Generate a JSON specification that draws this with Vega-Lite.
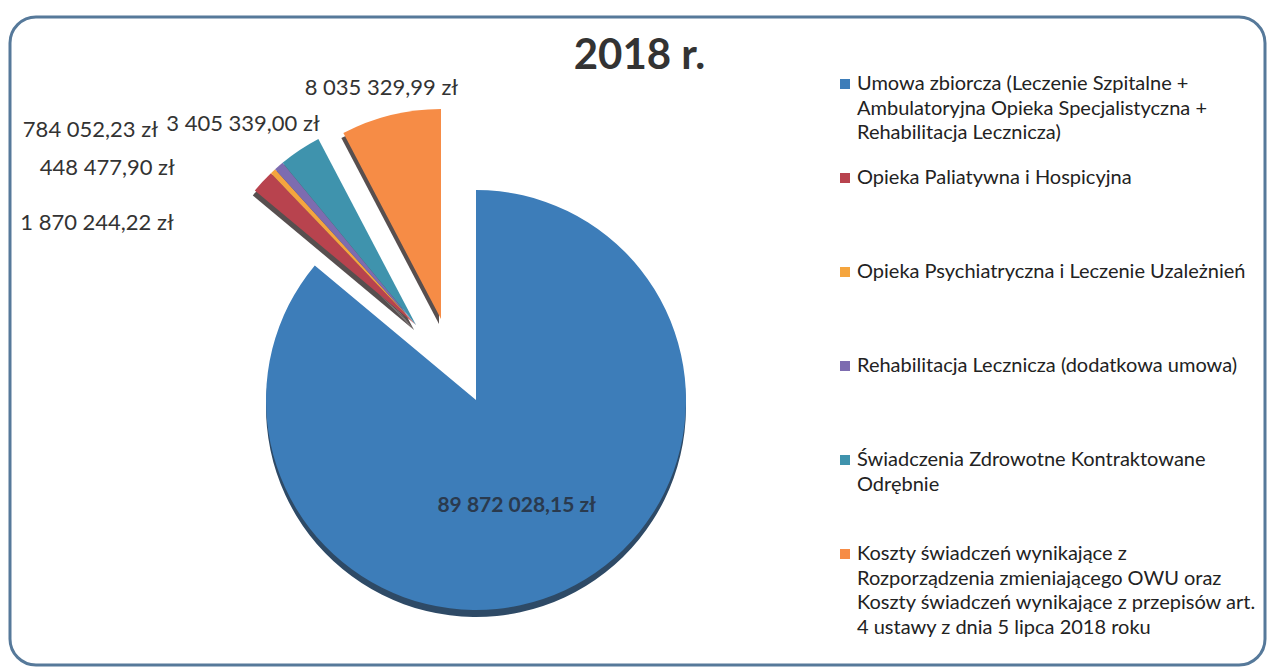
{
  "$schema": "https://vega.github.io/schema/vega-lite/v6.json",
  "autosize": "none",
  "width": 1255,
  "height": 648,
  "padding": {"top": 17, "left": 10, "right": 6, "bottom": 3},
  "background": "#ffffff",
  "title": {"text": "2018 r.", "font": "Lato", "fontSize": 42, "fontWeight": "bold", "color": "#333333", "anchor": "middle", "frame": "group", "baseline": "alphabetic", "offset": -53, "dx": 2, "dy": 42},
  "config": {
    "view": {"stroke": null},
    "text": {"font": "Lato"}
  },
  "data": {"values": [
    {"nr": 1, "kategoria": "Umowa zbiorcza (Leczenie Szpitalne +\nAmbulatoryjna Opieka Specjalistyczna +\nRehabilitacja Lecznicza)", "wartosc": 89872028.15, "etykieta": "89 872 028,15 zł"},
    {"nr": 2, "kategoria": "Opieka Paliatywna i Hospicyjna", "wartosc": 1870244.22, "etykieta": "1 870 244,22 zł"},
    {"nr": 3, "kategoria": "Opieka Psychiatryczna i Leczenie Uzależnień", "wartosc": 448477.90, "etykieta": "448 477,90 zł"},
    {"nr": 4, "kategoria": "Rehabilitacja Lecznicza (dodatkowa umowa)", "wartosc": 784052.23, "etykieta": "784 052,23 zł"},
    {"nr": 5, "kategoria": "Świadczenia Zdrowotne Kontraktowane\nOdrębnie", "wartosc": 3405339.00, "etykieta": "3 405 339,00 zł"},
    {"nr": 6, "kategoria": "Koszty świadczeń wynikające z\nRozporządzenia zmieniającego OWU oraz\nKoszty świadczeń wynikające z przepisów art.\n4 ustawy z dnia 5 lipca 2018 roku", "wartosc": 8035329.99, "etykieta": "8 035 329,99 zł"}
  ]},
  "layer": [
    {
      "transform": [{"filter": "datum.nr == 1"}],
      "mark": {"type": "rect", "fill": "#ffffff", "fillOpacity": 0, "stroke": "#56799a", "strokeWidth": 3, "cornerRadius": 26}
    },
    {
      "mark": {"type": "arc", "radius": 210, "xOffset": -161.5, "yOffset": 66, "fill": "#2e4a66"},
      "encoding": {
        "theta": {"field": "wartosc", "type": "quantitative", "stack": true},
        "order": {"field": "nr", "type": "quantitative"},
        "opacity": {"condition": {"test": "datum.nr == 1", "value": 1}, "value": 0}}
    },
    {
      "mark": {"type": "arc", "radius": 210, "xOffset": -223.5, "yOffset": -11, "fill": "#3a3030"},
      "encoding": {
        "theta": {"field": "wartosc", "type": "quantitative", "stack": true},
        "order": {"field": "nr", "type": "quantitative"},
        "opacity": {"condition": {"test": "datum.nr >= 2 && datum.nr <= 5", "value": 0.85}, "value": 0}}
    },
    {
      "mark": {"type": "arc", "radius": 210, "xOffset": -198.5, "yOffset": -17, "fill": "#3a3030"},
      "encoding": {
        "theta": {"field": "wartosc", "type": "quantitative", "stack": true},
        "order": {"field": "nr", "type": "quantitative"},
        "opacity": {"condition": {"test": "datum.nr == 6", "value": 0.85}, "value": 0}}
    },
    {
      "mark": {"type": "arc", "radius": 210, "xOffset": -161.5, "yOffset": 59},
      "encoding": {
        "theta": {"field": "wartosc", "type": "quantitative", "stack": true},
        "order": {"field": "nr", "type": "quantitative"},
        "color": {"field": "kategoria", "type": "nominal", "sort": {"field": "nr"},
          "scale": {"range": ["#3d7db9", "#b8434e", "#f5a53e", "#7d6cb0", "#3f93ad", "#f68c46"]},
          "legend": {"orient": "none", "legendX": 825, "legendY": 57, "title": null, "symbolType": "square", "symbolSize": 100, "symbolOpacity": 1,
            "labelFont": "Lato", "labelFontSize": 20, "labelColor": "#222222", "labelLimit": 700,
            "labelExpr": "split(datum.label, '\\n')", "gridAlign": "all", "rowPadding": 0, "labelBaseline": "top", "labelOffset": 2,
            "encode": {"labels": {"update": {"lineHeight": {"value": 24.5}, "dy": {"value": -10}}}}}},
        "opacity": {"condition": {"test": "datum.nr == 1", "value": 1}, "value": 0}
      }
    },
    {
      "mark": {"type": "arc", "radius": 210, "xOffset": -221.5, "yOffset": -16},
      "encoding": {
        "theta": {"field": "wartosc", "type": "quantitative", "stack": true},
        "order": {"field": "nr", "type": "quantitative"},
        "color": {"field": "kategoria", "type": "nominal", "sort": {"field": "nr"}},
        "opacity": {"condition": {"test": "datum.nr >= 2 && datum.nr <= 5", "value": 1}, "value": 0}
      }
    },
    {
      "mark": {"type": "arc", "radius": 210, "xOffset": -196.5, "yOffset": -22},
      "encoding": {
        "theta": {"field": "wartosc", "type": "quantitative", "stack": true},
        "order": {"field": "nr", "type": "quantitative"},
        "color": {"field": "kategoria", "type": "nominal", "sort": {"field": "nr"}},
        "opacity": {"condition": {"test": "datum.nr == 6", "value": 1}, "value": 0}
      }
    },
    {
      "mark": {"type": "text", "radius": 115, "xOffset": -161.5, "yOffset": 59, "dx": -8, "dy": 2, "fontSize": 21, "fontWeight": "bold", "fill": "#2a3a4e"},
      "encoding": {
        "theta": {"field": "wartosc", "type": "quantitative", "stack": true},
        "order": {"field": "nr", "type": "quantitative"},
        "text": {"field": "etykieta"}, "opacity": {"condition": {"test": "datum.nr == 1", "value": 1}, "value": 0}}
    },
    {
      "mark": {"type": "text", "radius": 320, "xOffset": -161.5, "yOffset": 59, "dx": -18, "dy": -1, "fontSize": 22, "fill": "#333333"},
      "encoding": {
        "theta": {"field": "wartosc", "type": "quantitative", "stack": true},
        "order": {"field": "nr", "type": "quantitative"},
        "text": {"field": "etykieta"}, "opacity": {"condition": {"test": "datum.nr == 6", "value": 1}, "value": 0}}
    },
    {
      "mark": {"type": "text", "radius": 340, "xOffset": -161.5, "yOffset": 59, "dx": -45, "dy": 7, "fontSize": 22, "fill": "#333333"},
      "encoding": {
        "theta": {"field": "wartosc", "type": "quantitative", "stack": true},
        "order": {"field": "nr", "type": "quantitative"},
        "text": {"field": "etykieta"}, "opacity": {"condition": {"test": "datum.nr == 5", "value": 1}, "value": 0}}
    },
    {
      "mark": {"type": "text", "radius": 330, "xOffset": -161.5, "yOffset": 59, "dx": -170, "dy": -20, "fontSize": 22, "fill": "#333333"},
      "encoding": {
        "theta": {"field": "wartosc", "type": "quantitative", "stack": true},
        "order": {"field": "nr", "type": "quantitative"},
        "text": {"field": "etykieta"}, "opacity": {"condition": {"test": "datum.nr == 4", "value": 1}, "value": 0}}
    },
    {
      "mark": {"type": "text", "radius": 330, "xOffset": -161.5, "yOffset": 59, "dx": -144, "dy": 10, "fontSize": 22, "fill": "#333333"},
      "encoding": {
        "theta": {"field": "wartosc", "type": "quantitative", "stack": true},
        "order": {"field": "nr", "type": "quantitative"},
        "text": {"field": "etykieta"}, "opacity": {"condition": {"test": "datum.nr == 3", "value": 1}, "value": 0}}
    },
    {
      "mark": {"type": "text", "radius": 330, "xOffset": -161.5, "yOffset": 59, "dx": -138, "dy": 48, "fontSize": 22, "fill": "#333333"},
      "encoding": {
        "theta": {"field": "wartosc", "type": "quantitative", "stack": true},
        "order": {"field": "nr", "type": "quantitative"},
        "text": {"field": "etykieta"}, "opacity": {"condition": {"test": "datum.nr == 2", "value": 1}, "value": 0}}
    }
  ]
}
